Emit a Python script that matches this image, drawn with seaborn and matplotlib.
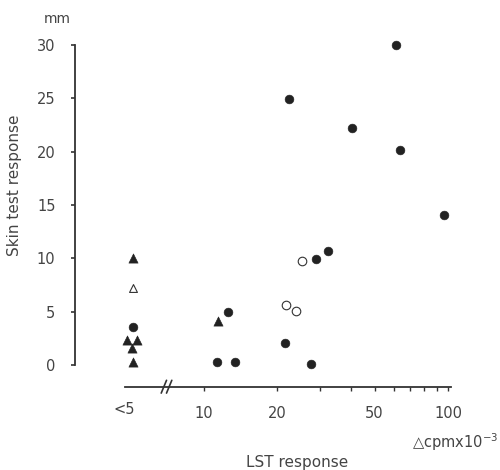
import numpy as np
import pandas as pd
import matplotlib
matplotlib.use("Agg")
import matplotlib.pyplot as plt
import seaborn as sns
from matplotlib.ticker import FixedLocator, FixedFormatter, NullFormatter

# ---- data (LST response in cpm x 10^-3 ; skin test response in mm) ----
# points in the "<5" group are drawn at x ~ 5
filled_circle_x = [5.1, 12.5, 21.4, 11.3, 13.4, 27.5, 28.8, 32.1, 22.4, 40.4, 61.4, 63.7, 96.6]
filled_circle_y = [3.6, 5.0, 2.1, 0.3, 0.3, 0.1, 9.9, 10.7, 24.9, 22.2, 30.0, 20.2, 14.1]
open_circle_x = [25.3, 21.7, 23.8]
open_circle_y = [9.75, 5.6, 5.1]
filled_tri_x = [5.1, 4.84, 5.3, 5.06, 5.1, 11.4]
filled_tri_y = [10.0, 2.3, 2.3, 1.6, 0.3, 4.15]
open_tri_x = [5.1]
open_tri_y = [7.2]

major_ticks = [10, 20, 50, 100]
major_labels = ["10", "20", "50", "100"]
minor_ticks = [30, 40, 60, 70, 80, 90]
y_ticks = [0, 5, 10, 15, 20, 25, 30]

sns.set_theme(style="white")
plt.rcParams['font.family'] = ['DejaVu Sans']

W, H = 500, 470
fig = plt.figure(figsize=(5, 4.7), dpi=100)

# layout (pixel mapping of reference)
a_px, b_px = 204.0, 244.0          # x_px = a + b*log10(x/10)
y0_px, ky = 365.0, 320.0 / 30.0    # y_px = y0 - ky*v
xl, xr = 2.96, 130.0
yl, yt = -1.0, 31.0
left_px = a_px + b_px * np.log10(xl / 10)
right_px = a_px + b_px * np.log10(xr / 10)
top_px = y0_px - ky * yt
bot_px = y0_px - ky * yl
ax = fig.add_axes([left_px / W, 1 - bot_px / H, (right_px - left_px) / W, (bot_px - top_px) / H])

col = "#222222"
fc = pd.DataFrame({"x": filled_circle_x, "y": filled_circle_y})
oc = pd.DataFrame({"x": open_circle_x, "y": open_circle_y})
ft = pd.DataFrame({"x": filled_tri_x, "y": filled_tri_y})
ot = pd.DataFrame({"x": open_tri_x, "y": open_tri_y})

sns.scatterplot(data=fc, x="x", y="y", ax=ax, marker="o", s=40, color=col, edgecolor=col, linewidth=0.4)
sns.scatterplot(data=oc, x="x", y="y", ax=ax, marker="o", s=38, facecolor="white", edgecolor="#333333", linewidth=0.8)
sns.scatterplot(data=ft, x="x", y="y", ax=ax, marker="^", s=44, color=col, edgecolor=col, linewidth=0.4)
sns.scatterplot(data=ot, x="x", y="y", ax=ax, marker="^", s=32, facecolor="white", edgecolor="#333333", linewidth=0.8)
for c in ax.collections:
    c.set_clip_on(False)

ax.set_xscale("log")
ax.set_xlim(xl, xr)
ax.set_ylim(yl, yt)

for s in ["top", "right"]:
    ax.spines[s].set_visible(False)
ax.spines["left"].set_bounds(0, 30)
ax.spines["left"].set_color("#333333")
ax.spines["left"].set_linewidth(1.3)
ax.spines["bottom"].set_bounds(4.75, 103)
ax.spines["bottom"].set_position(("outward", (386.7 - bot_px) * 0.72))
ax.spines["bottom"].set_color("#333333")
ax.spines["bottom"].set_linewidth(1.3)

ax.xaxis.set_major_locator(FixedLocator(major_ticks))
ax.xaxis.set_major_formatter(FixedFormatter(major_labels))
ax.xaxis.set_minor_locator(FixedLocator(minor_ticks))
ax.xaxis.set_minor_formatter(NullFormatter())
ax.set_yticks(y_ticks)
ax.set_yticklabels([str(v) for v in y_ticks])

ax.tick_params(axis="y", which="major", direction="out", length=3, width=1.2, colors="#333333",
               labelcolor="#444444", labelsize=10.5, pad=11, left=True)
ax.tick_params(axis="x", which="both", direction="out", length=3, width=1.0, colors="#333333",
               labelcolor="#444444", labelsize=10.5, pad=11, bottom=True)

ax.set_xlabel("")
ax.set_ylabel("")

# "<5" label
ax.text(4.72, 1 - (410 - top_px) / (bot_px - top_px), "<5", transform=ax.get_xaxis_transform(),
        ha="center", va="center", fontsize=10.5, color="#444444")

# axis break marks
yb = (y0_px - 386.7) / ky
for xc in [6.85, 7.2]:
    ax.plot([xc * 0.975, xc * 1.025], [yb - 0.6, yb + 0.6], color="#333333", lw=1.2, clip_on=False)

# texts
fig.text(57 / W, 1 - 19 / H, "mm", ha="center", va="center", fontsize=10, color="#444444")
fig.text(15 / W, 1 - 185 / H, "Skin test response", rotation=90, ha="center", va="center",
         fontsize=11, color="#444444")
fig.text(297 / W, 1 - 463 / H, "LST response", ha="center", va="center", fontsize=11, color="#444444")
fig.text(498 / W, 1 - 442 / H, "\u25b3cpmx10$^{-3}$", ha="right", va="center", fontsize=10.5, color="#444444")

fig.savefig("out.png", dpi=100)
